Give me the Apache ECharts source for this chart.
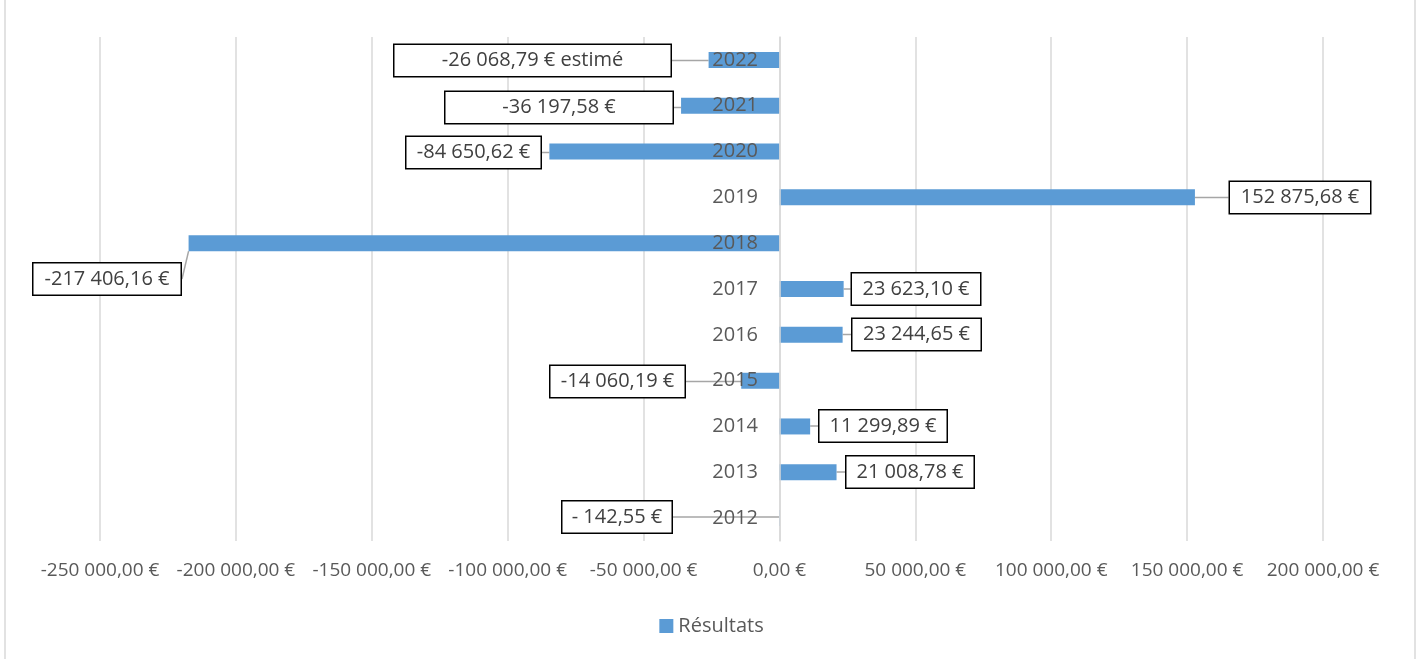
<!DOCTYPE html>
<html>
<head>
<meta charset="utf-8">
<script src="https://cdn.jsdelivr.net/npm/echarts@6/dist/echarts.min.js"></script>
<style>
  html, body { margin: 0; padding: 0; background: #fff; }
  #main { width: 1423px; height: 659px; }
</style>
</head>
<body>
<div id="main"></div>
<script>
var years = ['2012', '2013', '2014', '2015', '2016', '2017', '2018', '2019', '2020', '2021', '2022'];
var values = [-142.55, 21008.78, 11299.89, -14060.19, 23244.65, 23623.10, -217406.16, 152875.68, -84650.62, -36197.58, -26068.79];
// texts shown in the boxes
var labelTexts = ['- 142,55 €', '21 008,78 €', '11 299,89 €', '-14 060,19 €', '23 244,65 €',
	'23 623,10 €', '-217 406,16 €', '152 875,68 €', '-84 650,62 €', '-36 197,58 €',
	'-26 068,79 € estimé'];

// where each box sits (centre x, centre y, box width)
var labelBoxes = [
	[617, 517, 112], [910, 472, 130], [883, 426, 130], [617.5, 381.5, 137],
	[916.5, 334.5, 131], [916, 289, 131], [107, 279, 150], [1300, 197.5, 143],
	[473.5, 152.5, 137], [559, 107.5, 230], [532.5, 60.5, 279]
];

function euro(v) {
	var parts = Math.abs(v).toFixed(2).split('.');
	var ent = parts[0].replace(/\B(?=(\d{3})+(?!\d))/g, ' ');
	return (v < 0 ? '-' : '') + ent + ',' + parts[1] + ' €';
}

var font = '"Open Sans", "Noto Sans", sans-serif';

var barData = [];
for (var i = 0; i < values.length; i++) {
	barData.push({
		value: values[i],
		label: { width: labelBoxes[i][2] - 3 }
	});
}

var myChart = echarts.init(document.getElementById('main'));

var option = {
	animation: false,
	textStyle: { fontFamily: font },
	grid: { left: 100, right: 100, top: 37, bottom: 118 },
	legend: {
		data: ['Résultats'],
		top: 611,
		left: 'center',
		icon: 'rect',
		itemWidth: 14,
		itemHeight: 14,
		itemGap: 10,
		textStyle: { fontFamily: font, fontSize: 20, color: '#595959' }
	},
	graphic: [{
		type: 'rect',
		silent: true,
		shape: { x: 5, y: -10, width: 1410, height: 680 },
		style: { fill: 'none', stroke: '#d9d9d9', lineWidth: 1.5 }
	}],
	xAxis: {
		type: 'value',
		min: -250000,
		max: 200000,
		interval: 50000,
		axisLine: { show: false },
		axisTick: { show: false },
		splitLine: { lineStyle: { color: '#d9d9d9', width: 1.5 } },
		axisLabel: {
			margin: 20,
			fontFamily: font,
			fontSize: 19,
			color: '#595959',
			formatter: euro
		}
	},
	yAxis: {
		type: 'category',
		data: years,
		z: 5,
		// sit the category axis on the 0 line
		offset: -680,
		axisLine: { onZero: false, lineStyle: { color: '#d9d9d9', width: 1.5 } },
		axisTick: { show: false },
		axisLabel: {
			margin: 22,
			fontFamily: font,
			fontSize: 20,
			color: '#595959'
		}
	},
	series: [{
		name: 'Résultats',
		type: 'bar',
		data: barData,
		barWidth: 16,
		itemStyle: { color: '#5b9bd5' },
		label: {
			show: true,
			position: 'inside',
			formatter: function (p) { return labelTexts[p.dataIndex]; },
			fontFamily: font,
			fontSize: 20,
			lineHeight: 23,
			color: '#404040',
			align: 'center',
			backgroundColor: '#fff',
			borderColor: '#000',
			borderWidth: 1.5,
			padding: [4, 0]
		},
		labelLine: {
			show: true,
			lineStyle: { color: '#a6a6a6', width: 1.5 }
		},
		labelLayout: function (params) {
			var b = labelBoxes[params.dataIndex];
			return { x: b[0], y: b[1], align: 'center', verticalAlign: 'middle' };
		}
	}]
};

myChart.setOption(option);
</script>
</body>
</html>
